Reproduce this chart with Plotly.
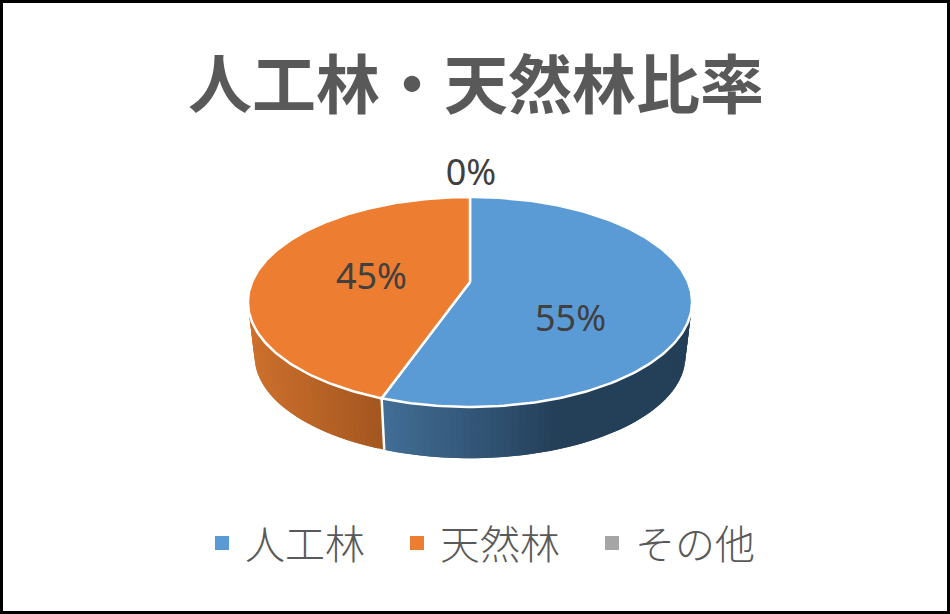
import numpy as np
import plotly.graph_objects as go

# データ
categories = ["人工林", "天然林", "その他"]
values = [55.4, 44.6, 0.0]

top_colors = ["#5b9bd5", "#ed7d31", "#a5a5a5"]
# 側面のグラデーション (x位置, 色)
side_stops = [
    ([385, 470, 560, 700], [(66, 109, 148), (52, 88, 122), (36, 63, 88), (36, 63, 88)]),
    ([250, 385], [(205, 112, 45), (163, 86, 32)]),
    ([0, 950], [(120, 120, 120), (120, 120, 120)]),
]

# 楕円の形 (ピクセル)
cx, hub_y = 470, 282
a, b, k = 218, 101.2, 0.19
depth, shrink = 55, 0.97


def top_rim(deg):
    t = np.radians(deg)
    u, v = np.sin(t), np.cos(t)
    d = 1 + k * v
    return a * u / d, -b * v / d


def rim_points(deg, bottom=False):
    x, y = top_rim(deg)
    if bottom:
        return cx + shrink * x, hub_y + depth + shrink * y
    return cx + x, hub_y + y


total = sum(values)
edges = np.cumsum([0] + values) / total * 360

fig = go.Figure()

# 側面 (継ぎ目が出ないよう少し重ねて描く)
for i in range(len(values)):
    start, end = edges[i], edges[i + 1]
    n = int(round((end - start) / 1.5))
    if n == 0:
        continue
    angles = np.linspace(start, end, n + 1)
    xs_stop, cols = side_stops[i]
    for j in range(n):
        seg = np.linspace(angles[j], min(angles[j + 1] + 1.5, end), 4)
        tx, ty = rim_points(seg)
        bx, by = rim_points(seg[::-1], bottom=True)
        mid_x = rim_points((angles[j] + angles[j + 1]) / 2)[0]
        rgb = [int(np.interp(mid_x, xs_stop, [c[ch] for c in cols])) for ch in range(3)]
        color = f"rgb({rgb[0]},{rgb[1]},{rgb[2]})"
        fig.add_trace(go.Scatter(
            x=list(tx) + list(bx), y=list(ty) + list(by),
            mode="lines", fill="toself", fillcolor=color,
            line=dict(width=0),
            hoverinfo="skip", showlegend=False,
        ))

# 側面の境界線
for e in edges[:-1]:
    x0, y0 = rim_points(e)
    x1, y1 = rim_points(e, bottom=True)
    fig.add_trace(go.Scatter(
        x=[x0, x1], y=[y0, y1], mode="lines",
        line=dict(color="white", width=2.5),
        hoverinfo="skip", showlegend=False,
    ))

# 上面
for i in range(len(values)):
    start, end = edges[i], edges[i + 1]
    if end - start <= 0:
        continue
    px, py = rim_points(np.linspace(start, end, 180))
    fig.add_trace(go.Scatter(
        x=[cx] + list(px) + [cx], y=[hub_y] + list(py) + [hub_y],
        mode="lines", fill="toself", fillcolor=top_colors[i],
        line=dict(color="white", width=2.5),
        hoverinfo="text", text=categories[i], showlegend=False,
    ))

# ラベル
mids = np.radians((edges[:-1] + edges[1:]) / 2)
fig.add_trace(go.Scatter(
    x=cx + 1 + 101 * np.sin(mids), y=301 - 125 * np.cos(mids),
    mode="text", text=[f"{v / total * 100:.0f}%" for v in values],
    textposition="middle center",
    textfont=dict(family="Noto Sans", size=36, color="#404040"),
    hoverinfo="skip", showlegend=False,
))

# 凡例
for name, color in zip(categories, top_colors):
    fig.add_trace(go.Scatter(
        x=[None], y=[None], mode="markers", name=name,
        marker=dict(symbol="square", size=14, color=color),
    ))

fig.update_layout(
    width=950, height=614,
    autosize=False,
    margin=dict(l=0, r=0, t=0, b=0),
    paper_bgcolor="white",
    plot_bgcolor="white",
    title=dict(
        text="<b>人工林・天然林比率</b>",
        x=476 / 950, y=1 - 86 / 614, xanchor="center", yanchor="middle",
        font=dict(family="Noto Sans CJK JP", size=64, color="#595959"),
    ),
    xaxis=dict(range=[0, 950], visible=False, fixedrange=True),
    yaxis=dict(range=[614, 0], visible=False, fixedrange=True),
    showlegend=True,
    legend=dict(
        orientation="h", x=199 / 950, y=1 - 543 / 614,
        xanchor="left", yanchor="middle",
        itemwidth=36,
        entrywidth=144, entrywidthmode="pixels",
        font=dict(family="Noto Sans CJK JP", size=40, color="#595959", weight=300),
        bgcolor="rgba(0,0,0,0)",
    ),
    shapes=[dict(type="rect", xref="x", yref="y", x0=1.5, y0=1.5, x1=948.5, y1=612.5,
                 line=dict(color="black", width=3), fillcolor="rgba(0,0,0,0)")],
)

# ページの余白をなくす
fig.write_html("out.html", config=dict(displayModeBar=False),
               post_script="document.body.style.margin='0';document.body.style.overflow='hidden';")
